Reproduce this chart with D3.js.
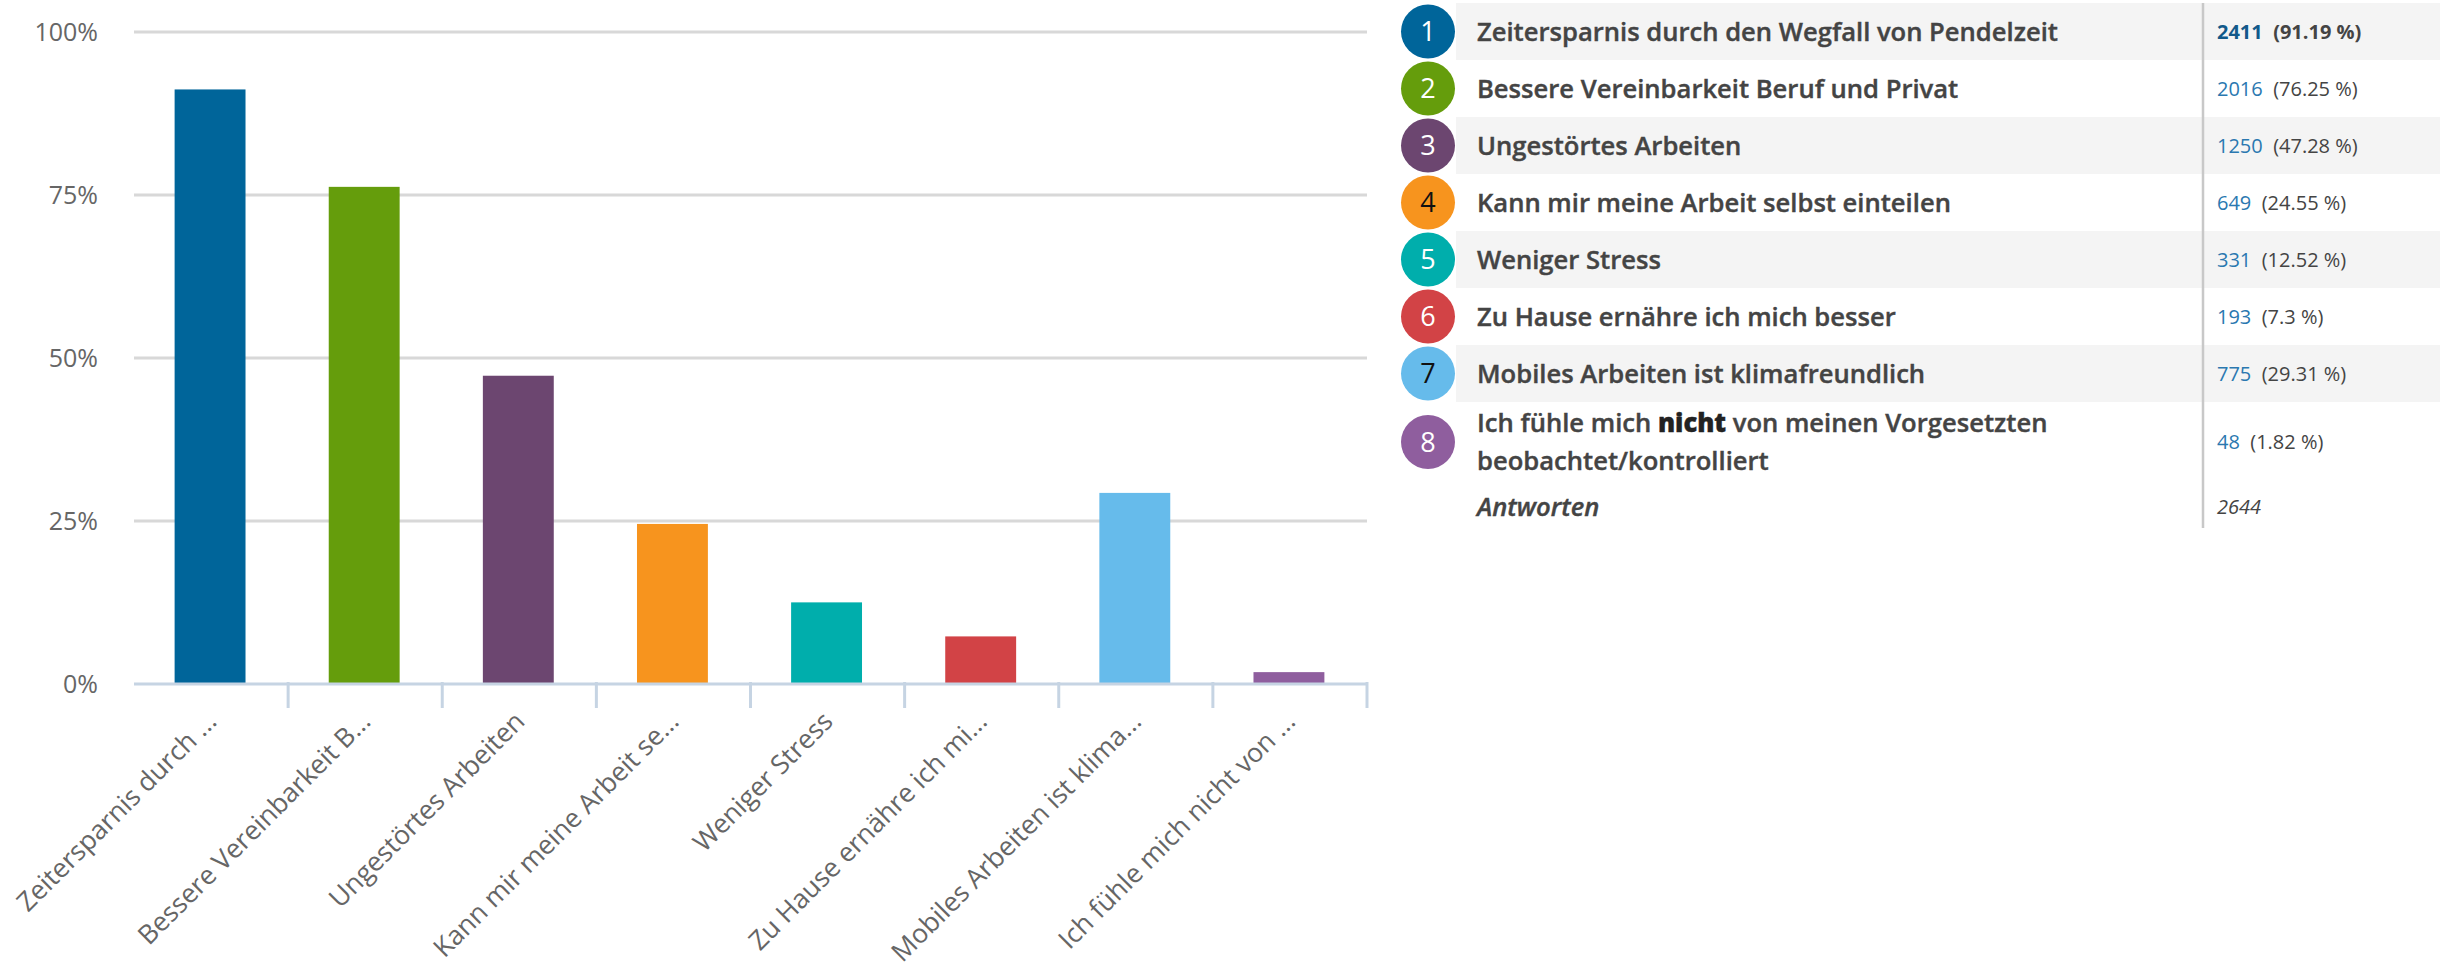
<!DOCTYPE html>
<meta charset="utf-8">
<head>
<style>
body { margin: 0; background: #fff; }
svg { display: block; font-family: "Open Sans", sans-serif; }
.axis-lbl { fill: #666; font-size: 26.5px; }
.y-lbl { fill: #666; font-size: 25px; }
.leg-lbl { fill: #444; font-size: 25.6px; font-weight: 600; stroke: #444; stroke-width: 0.4px; }
.val { font-size: 20px; }
</style>
</head>
<body>
<svg id="chart" width="2448" height="969"></svg>
<script src="https://cdnjs.cloudflare.com/ajax/libs/d3/7.8.5/d3.min.js"></script>
<script>

// data
var categories = [
  "Zeitersparnis durch den Wegfall von Pendelzeit",
  "Bessere Vereinbarkeit Beruf und Privat",
  "Ungestörtes Arbeiten",
  "Kann mir meine Arbeit selbst einteilen",
  "Weniger Stress",
  "Zu Hause ernähre ich mich besser",
  "Mobiles Arbeiten ist klimafreundlich",
  "Ich fühle mich nicht von meinen Vorgesetzten beobachtet/kontrolliert"
];
var shortLabels = [
  "Zeitersparnis durch ...",
  "Bessere Vereinbarkeit B...",
  "Ungestörtes Arbeiten",
  "Kann mir meine Arbeit se...",
  "Weniger Stress",
  "Zu Hause ernähre ich mi...",
  "Mobiles Arbeiten ist klima...",
  "Ich fühle mich nicht von ..."
];
var counts = [2411, 2016, 1250, 649, 331, 193, 775, 48];
var percents = [91.19, 76.25, 47.28, 24.55, 12.52, 7.3, 29.31, 1.82];
var colors = ["#00659a", "#659d0c", "#6c4670", "#f7941e", "#00aeac", "#d24346", "#66bbeb", "#8f5e9e"];
var digitColors = ["#fff", "#fff", "#fff", "#111", "#fff", "#fff", "#111", "#fff"];
var total = 2644;
var yTicks = [0, 25, 50, 75, 100];

var svg = d3.select("#chart");

// ---- bar chart
var x = d3.scaleBand()
    .domain(d3.range(categories.length))
    .range([134, 1367]);

var y = d3.scaleLinear()
    .domain([0, 100])
    .range([684, 32]);

var barW = x.bandwidth() * 0.46;

// grid
svg.append("g").selectAll("line")
  .data(yTicks.filter(function(t){ return t > 0; }))
  .enter().append("line")
    .attr("x1", 134).attr("x2", 1367)
    .attr("y1", function(d){ return y(d); })
    .attr("y2", function(d){ return y(d); })
    .attr("stroke", "#d8d8d8")
    .attr("stroke-width", 3);

svg.append("g").selectAll("text")
  .data(yTicks)
  .enter().append("text")
    .attr("class", "y-lbl")
    .attr("x", 98)
    .attr("y", function(d){ return y(d); })
    .attr("dy", "0.36em")
    .attr("text-anchor", "end")
    .text(function(d){ return d + "%"; });

// bars
svg.append("g").selectAll("rect")
  .data(percents)
  .enter().append("rect")
    .attr("x", function(d, i){ return x(i) + x.bandwidth() / 2 - barW / 2 - 1; })
    .attr("width", barW)
    .attr("y", function(d){ return y(d); })
    .attr("height", function(d){ return y(0) - y(d); })
    .attr("fill", function(d, i){ return colors[i]; });

// x axis
var ax = svg.append("g").attr("stroke", "#c6d4e3").attr("stroke-width", 3);
ax.append("line")
    .attr("x1", 134).attr("x2", 1368)
    .attr("y1", y(0)).attr("y2", y(0));
ax.selectAll(".tk")
  .data(d3.range(1, categories.length + 1))
  .enter().append("line")
    .attr("class", "tk")
    .attr("x1", function(i){ return x.range()[0] + i * x.step(); })
    .attr("x2", function(i){ return x.range()[0] + i * x.step(); })
    .attr("y1", y(0) - 2).attr("y2", y(0) + 24);

svg.append("g").selectAll("text")
  .data(shortLabels)
  .enter().append("text")
    .attr("class", "axis-lbl")
    .attr("text-anchor", "end")
    .attr("transform", function(d, i){
      return "translate(" + (x(i) + x.bandwidth() / 2 + 7) + ",723) rotate(-45)";
    })
    .text(function(d){ return d; });

// ---- legend table
var rowTop = 3, rowH = 57;
var rows = categories.map(function(c, i){
  var top = rowTop + i * rowH;
  var h = i == 7 ? 80 : rowH;
  return {i: i, top: top, h: h, mid: top + h / 2};
});
var footMid = rows[7].top + rows[7].h + 25;

var leg = svg.append("g");

leg.selectAll(".band")
  .data(rows.filter(function(r){ return r.i % 2 == 0; }))
  .enter().append("rect")
    .attr("x", 1456).attr("width", 984)
    .attr("y", function(r){ return r.top; })
    .attr("height", function(r){ return r.h; })
    .attr("fill", "#f4f4f4");

leg.append("line")
    .attr("x1", 2203).attr("x2", 2203)
    .attr("y1", 3).attr("y2", 528)
    .attr("stroke", "#c8c8c8").attr("stroke-width", 2.5);

leg.selectAll("circle")
  .data(rows)
  .enter().append("circle")
    .attr("cx", 1428)
    .attr("cy", function(r){ return r.mid; })
    .attr("r", 27)
    .attr("fill", function(r){ return colors[r.i]; });

leg.selectAll(".num")
  .data(rows)
  .enter().append("text")
    .attr("x", 1428)
    .attr("y", function(r){ return r.mid; })
    .attr("dy", "0.36em")
    .attr("text-anchor", "middle")
    .attr("font-size", 27)
    .attr("fill", function(r){ return digitColors[r.i]; })
    .text(function(r){ return r.i + 1; });

rows.forEach(function(r){
  if (r.i < 7) {
    leg.append("text")
        .attr("class", "leg-lbl")
        .attr("x", 1477).attr("y", r.mid).attr("dy", "0.36em")
        .text(categories[r.i]);
  } else {
    var t1 = leg.append("text")
        .attr("class", "leg-lbl")
        .attr("x", 1477).attr("y", r.mid - 19).attr("dy", "0.36em");
    t1.append("tspan").text("Ich fühle mich ");
    t1.append("tspan").style("font-weight", 800).attr("fill", "#222").attr("stroke", "#222").text("nicht");
    t1.append("tspan").text(" von meinen Vorgesetzten");
    leg.append("text")
        .attr("class", "leg-lbl")
        .attr("x", 1477).attr("y", r.mid + 19).attr("dy", "0.36em")
        .text("beobachtet/kontrolliert");
  }

  var v = leg.append("text")
      .attr("class", "val")
      .attr("x", 2217).attr("y", r.mid).attr("dy", "0.36em")
      .attr("font-weight", r.i == 0 ? 700 : 400);
  v.append("tspan").attr("fill", r.i == 0 ? "#12598a" : "#2a78b0").text(counts[r.i]);
  v.append("tspan").attr("fill", "#444")
      .text("\u00a0 (" + percents[r.i] + " %)");
});

leg.append("text")
    .attr("class", "leg-lbl")
    .attr("x", 1477).attr("y", footMid).attr("dy", "0.36em")
    .attr("font-style", "italic")
    .text("Antworten");
leg.append("text")
    .attr("class", "val")
    .attr("x", 2217).attr("y", footMid).attr("dy", "0.36em")
    .attr("font-style", "italic")
    .attr("fill", "#444")
    .text(total);

</script>
</body>
